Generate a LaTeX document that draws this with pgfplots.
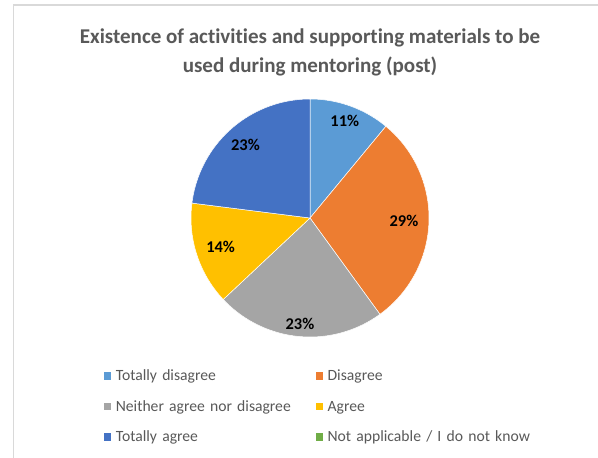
\documentclass[border=0pt]{standalone}
\usepackage{pgfplots}
\pgfplotsset{compat=1.18}
\usepackage{fontspec}
\setmainfont{Carlito}[Ligatures={NoCommon}]
\definecolor{c1}{HTML}{5B9BD5}
\definecolor{c2}{HTML}{ED7D31}
\definecolor{c3}{HTML}{A5A5A5}
\definecolor{c4}{HTML}{FFC000}
\definecolor{c5}{HTML}{4472C4}
\definecolor{c6}{HTML}{70AD47}
\definecolor{txtgray}{HTML}{595959}
\definecolor{framegray}{HTML}{D9D9D9}
\begin{document}
\begin{tikzpicture}
\def\cx{310}\def\cy{218}\def\R{119}
% data (percent)
\def\vA{11}\def\vB{29}\def\vC{23}\def\vD{14}\def\vE{23}\def\vF{0}
% label radius factors
\def\rA{0.863}\def\rB{0.79}\def\rC{0.895}\def\rD{0.79}\def\rE{0.82}
\pgfmathsetmacro\aA{90}
\pgfmathsetmacro\aB{\aA-3.6*\vA}
\pgfmathsetmacro\aC{\aB-3.6*\vB}
\pgfmathsetmacro\aD{\aC-3.6*\vC}
\pgfmathsetmacro\aE{\aD-3.6*\vD}
\pgfmathsetmacro\aF{\aE-3.6*\vE}
\pgfmathsetmacro\mA{(\aA+\aB)/2}
\pgfmathsetmacro\mB{(\aB+\aC)/2}
\pgfmathsetmacro\mC{(\aC+\aD)/2}
\pgfmathsetmacro\mD{(\aD+\aE)/2}
\pgfmathsetmacro\mE{(\aE+\aF)/2}
\pgfmathsetmacro\xA{\cx+\rA*\R*cos(\mA)}\pgfmathsetmacro\yA{\cy-\rA*\R*sin(\mA)}
\pgfmathsetmacro\xB{\cx+\rB*\R*cos(\mB)}\pgfmathsetmacro\yB{\cy-\rB*\R*sin(\mB)}
\pgfmathsetmacro\xC{\cx+\rC*\R*cos(\mC)}\pgfmathsetmacro\yC{\cy-\rC*\R*sin(\mC)}
\pgfmathsetmacro\xD{\cx+\rD*\R*cos(\mD)}\pgfmathsetmacro\yD{\cy-\rD*\R*sin(\mD)}
\pgfmathsetmacro\xE{\cx+\rE*\R*cos(\mE)}\pgfmathsetmacro\yE{\cy-\rE*\R*sin(\mE)}
\fill[white] (0,0) rectangle (598bp,458bp);
\draw[framegray, line width=1.5bp] (13.5bp,0) -- (13.5bp,453bp) -- (598bp,453bp);
\begin{axis}[
  scale only axis, width=598bp, height=458bp,
  xmin=0, xmax=598, ymin=0, ymax=458, y dir=reverse,
  hide axis, clip=false,
  legend columns=2,
  legend cell align=left,
  legend image code/.code={\fill[#1, draw=none] (0bp,-3.8bp) rectangle (7.6bp,3.8bp);},
  legend style={draw=none, fill=none, inner sep=0pt,
    at={(axis cs:103.5,368.7)}, anchor=north west,
    font=\fontsize{15.7}{18}\selectfont, text=txtgray,
    nodes={inner xsep=0pt, inner ysep=0pt, text height=12bp, text depth=2bp, text width=215bp, align=left},
    column sep=4.5bp, row sep=16.5bp,
    /tikz/every even column/.append style={column sep=-15.3bp}},
]
\addplot[fill=c1, draw=white, line width=0.5bp, domain=\aB:\aA, samples=40, variable=\t]
  ({\cx+\R*cos(\t)},{\cy-\R*sin(\t)}) -- (axis cs:\cx,\cy) -- cycle;
\addlegendentry{Totally disagree}
\addplot[fill=c2, draw=white, line width=0.5bp, domain=\aC:\aB, samples=60, variable=\t]
  ({\cx+\R*cos(\t)},{\cy-\R*sin(\t)}) -- (axis cs:\cx,\cy) -- cycle;
\addlegendentry{Disagree}
\addplot[fill=c3, draw=white, line width=0.5bp, domain=\aD:\aC, samples=50, variable=\t]
  ({\cx+\R*cos(\t)},{\cy-\R*sin(\t)}) -- (axis cs:\cx,\cy) -- cycle;
\addlegendentry{Neither agree nor disagree}
\addplot[fill=c4, draw=white, line width=0.5bp, domain=\aE:\aD, samples=40, variable=\t]
  ({\cx+\R*cos(\t)},{\cy-\R*sin(\t)}) -- (axis cs:\cx,\cy) -- cycle;
\addlegendentry{Agree}
\addplot[fill=c5, draw=white, line width=0.5bp, domain=\aF:\aE, samples=50, variable=\t]
  ({\cx+\R*cos(\t)},{\cy-\R*sin(\t)}) -- (axis cs:\cx,\cy) -- cycle;
\addlegendentry{Totally agree}
\addlegendimage{fill=c6}
\addlegendentry{Not applicable / I do not know}
\node[font=\bfseries\fontsize{16.5}{18}\selectfont] at (axis cs:\xA,\yA) {\vA\%};
\node[font=\bfseries\fontsize{16.5}{18}\selectfont] at (axis cs:\xB,\yB) {\vB\%};
\node[font=\bfseries\fontsize{16.5}{18}\selectfont] at (axis cs:\xC,\yC) {\vC\%};
\node[font=\bfseries\fontsize{16.5}{18}\selectfont] at (axis cs:\xD,\yD) {\vD\%};
\node[font=\bfseries\fontsize{16.5}{18}\selectfont] at (axis cs:\xE,\yE) {\vE\%};
\node[font=\bfseries\fontsize{21.1}{24}\selectfont, text=txtgray, anchor=base] at (axis cs:310,44) {Existence of activities and supporting materials to be};
\node[font=\bfseries\fontsize{21.1}{24}\selectfont, text=txtgray, anchor=base] at (axis cs:310,73) {used during mentoring (post)};
\end{axis}
\pgfresetboundingbox
\path[use as bounding box] (0,0) rectangle (598bp,458bp);
\end{tikzpicture}
\end{document}
